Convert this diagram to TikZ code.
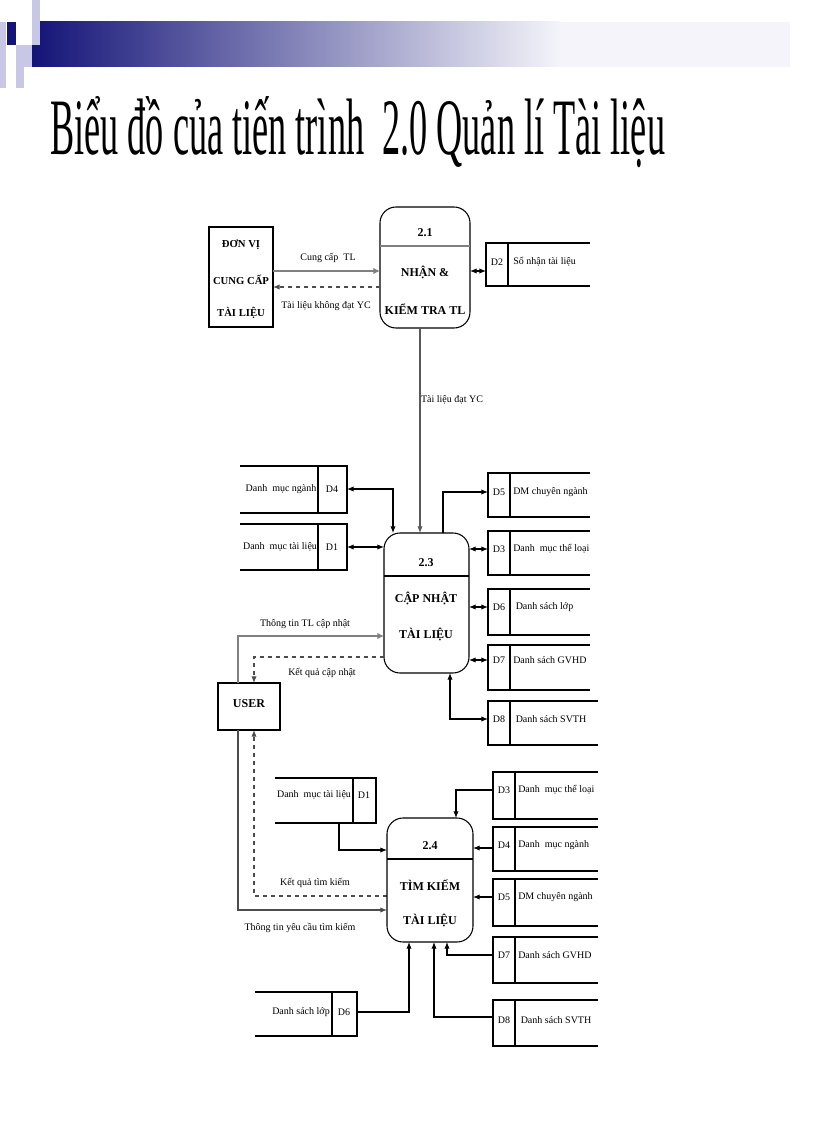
\documentclass[tikz,border=0pt]{standalone}
\usepackage{fontspec}
\setmainfont{Liberation Serif}
\usetikzlibrary{arrows.meta}
\definecolor{navy}{RGB}{20,20,120}
\definecolor{lav}{RGB}{200,200,230}
\definecolor{pale}{RGB}{244,244,250}
\begin{document}
\begin{tikzpicture}[x=0.75pt,y=-0.75pt,
  lbl/.style={font=\fontsize{7.5}{9}\selectfont,inner sep=0pt},
  ptxt/.style={font=\fontsize{9}{10}\selectfont\bfseries,inner sep=0pt},
  etxt/.style={font=\fontsize{8}{10}\selectfont\bfseries,inner sep=0pt},
  proc/.style={draw,rounded corners=12pt,line width=0.8pt},
  st/.style={line width=0.8pt},
  fl/.style={line width=0.8pt,-{Latex[length=5pt,width=4pt]}},
  fl2/.style={line width=0.8pt,{Latex[length=5pt,width=4pt]}-{Latex[length=5pt,width=4pt]}},
  gfl/.style={line width=1.8pt,gray,-{Latex[length=5pt,width=5pt]}},
  dfl/.style={line width=0.8pt,dashed,-{Latex[length=5pt,width=4pt]}}]
\useasboundingbox (0,0) rectangle (816,1123);
% header
\shade[left color=navy,right color=pale] (32,22) rectangle (560,67);
\fill[pale] (559,22) rectangle (790,67);
\fill[lav] (32,0) rectangle (40,45);
\fill[lav] (0,22) rectangle (6,88);
\fill[lav] (16,45) rectangle (24,88);
\fill[lav] (24,45) rectangle (32,67);
\fill[navy] (7,22) rectangle (16,45);
\node[anchor=base west,inner sep=0pt] (title) at (50,155) {\resizebox{461pt}{43.5pt}{Biểu đồ của tiến trình\ \ 2.0 Quản lí Tài liệu}};
% external entity
\draw[st] (209,227) rectangle (273,327);
\node[etxt] (dv1) at (241,245) {ĐƠN VỊ};
\node[etxt] (dv2) at (241,280) {CUNG CẤP};
\node[etxt] (dv3) at (241,313) {TÀI LIỆU};
% process 2.1
\draw[proc] (380,207) rectangle (470,328);
\draw[gray,line width=1.5pt] (380,246) -- (470,246);
\node[ptxt] (p21) at (425,233) {2.1};
\node[ptxt] at (425,272) {NHẬN \&};
\node[ptxt] at (425,309) {KIỂM TRA TL};
\draw[gfl] (273,271) -- (380,271);
\node[lbl] at (328,258) {Cung cấp\ \ TL};
\draw[dfl,gray!60!black] (380,287) -- (273,287);
\node[lbl] at (326,306) {Tài liệu không đạt YC};
% D2
\draw[st] (590,243) -- (486,243) -- (486,286) -- (590,286);
\draw[st] (508,243) -- (508,286);
\node[lbl] at (497,262) {D2};
\node[lbl,anchor=west] at (513,262) {Sổ nhận tài liệu};
\draw[fl2] (470,271) -- (486,271);
% 2.1 -> 2.3
\draw[fl,gray!70!black] (420,328) -- (420,533);
\node[lbl] at (452,400) {Tài liệu đạt YC};
% process 2.3
\draw[proc] (384,533) rectangle (469,673);
\draw[st] (384,576) -- (469,576);
\node[ptxt] at (426,563) {2.3};
\node[ptxt] at (426,598) {CẬP NHẬT};
\node[ptxt] at (426,634) {TÀI LIỆU};
% left stores 2.3
\draw[st] (240,466) -- (347,466) -- (347,513) -- (240,513); \draw[st] (318,466)--(318,513);
\node[lbl] at (281,489) {Danh\ \ mục ngành}; \node[lbl] at (332,489) {D4};
\draw[st] (240,524) -- (347,524) -- (347,570) -- (240,570); \draw[st] (318,524)--(318,570);
\node[lbl] at (280,547) {Danh\ \ mục tài liệu}; \node[lbl] at (332,547) {D1};
\draw[fl2] (347,489) -- (393,489) -- (393,533);
\draw[fl2] (347,547) -- (384,547);
% right stores 2.3
\foreach \t/\b/\c/\lab/\txt/\xr in {473/517/492/D5/DM chuyên ngành/590, 531/575/549/D3/Danh\ \ mục thể loại/590, 589/635/607/D6/\ Danh sách lớp/590, 645/690/660/D7/Danh sách GVHD/590, 701/745/719/D8/\ Danh sách SVTH/598}{
  \draw[st] (\xr,\t) -- (488,\t) -- (488,\b) -- (\xr,\b);
  \draw[st] (510,\t) -- (510,\b);
  \node[lbl] at (499,\c) {\lab};
  \node[lbl,anchor=west] at (513,\c) {\txt};
}
\draw[fl] (443,533) -- (443,492) -- (488,492);
\draw[fl2] (469,549) -- (488,549);
\draw[fl2] (469,607) -- (488,607);
\draw[fl2] (469,660) -- (488,660);
\draw[fl2] (450,673) -- (450,719) -- (488,719);
% USER
\draw[st] (218,683) rectangle (280,730);
\node[ptxt] (user) at (249,704) {USER};
\draw[gfl,line width=1.4pt] (238,683) -- (238,636) -- (384,636);
\node[lbl] at (305,624) {Thông tin TL cập nhật};
\draw[dfl,gray!60!black] (384,657) -- (254,657) -- (254,683);
\node[lbl] at (322,673) {Kết quả cập nhật};
\draw[fl,gray!60!black] (238,730) -- (238,910) -- (387,910);
\node[lbl] at (300,928) {Thông tin yêu cầu tìm kiếm};
\draw[dfl,gray!60!black] (387,896) -- (254,896) -- (254,730);
\node[lbl] at (315,883) {Kết quả tìm kiếm};
% process 2.4
\draw[proc] (387,818) rectangle (473,942);
\draw[st] (387,859) -- (473,859);
\node[ptxt] at (430,846) {2.4};
\node[ptxt] at (430,885) {TÌM KIẾM};
\node[ptxt] at (430,920) {TÀI LIỆU};
% left stores 2.4
\draw[st] (275,778) -- (376,778) -- (376,823) -- (275,823); \draw[st] (353,778)--(353,823);
\node[lbl] at (314,795) {Danh\ \ mục tài liệu}; \node[lbl] at (364,795) {D1};
\draw[fl] (339,823) -- (339,850) -- (387,850);
\draw[st] (255,992) -- (357,992) -- (357,1036) -- (255,1036); \draw[st] (332,992)--(332,1036);
\node[lbl] at (301,1012) {Danh sách lớp}; \node[lbl] at (344,1012) {D6};
\draw[fl] (357,1012) -- (409,1012) -- (409,942);
% right stores 2.4
\foreach \t/\b/\c/\lab/\txt in {772/819/790/D3/Danh\ \ mục thể loại, 827/871/845/D4/Danh\ \ mục ngành, 879/926/897/D5/DM chuyên ngành, 937/983/955/D7/Danh sách GVHD, 1000/1046/1020/D8/\ Danh sách SVTH}{
  \draw[st] (598,\t) -- (493,\t) -- (493,\b) -- (598,\b);
  \draw[st] (515,\t) -- (515,\b);
  \node[lbl] at (504,\c) {\lab};
  \node[lbl,anchor=west] at (518,\c) {\txt};
}
\draw[fl] (493,790) -- (456,790) -- (456,818);
\draw[fl] (493,848) -- (473,848);
\draw[fl] (493,897) -- (473,897);
\draw[fl] (493,955) -- (447,955) -- (447,942);
\draw[fl] (493,1017) -- (434,1017) -- (434,942);
\end{tikzpicture}
\end{document}
